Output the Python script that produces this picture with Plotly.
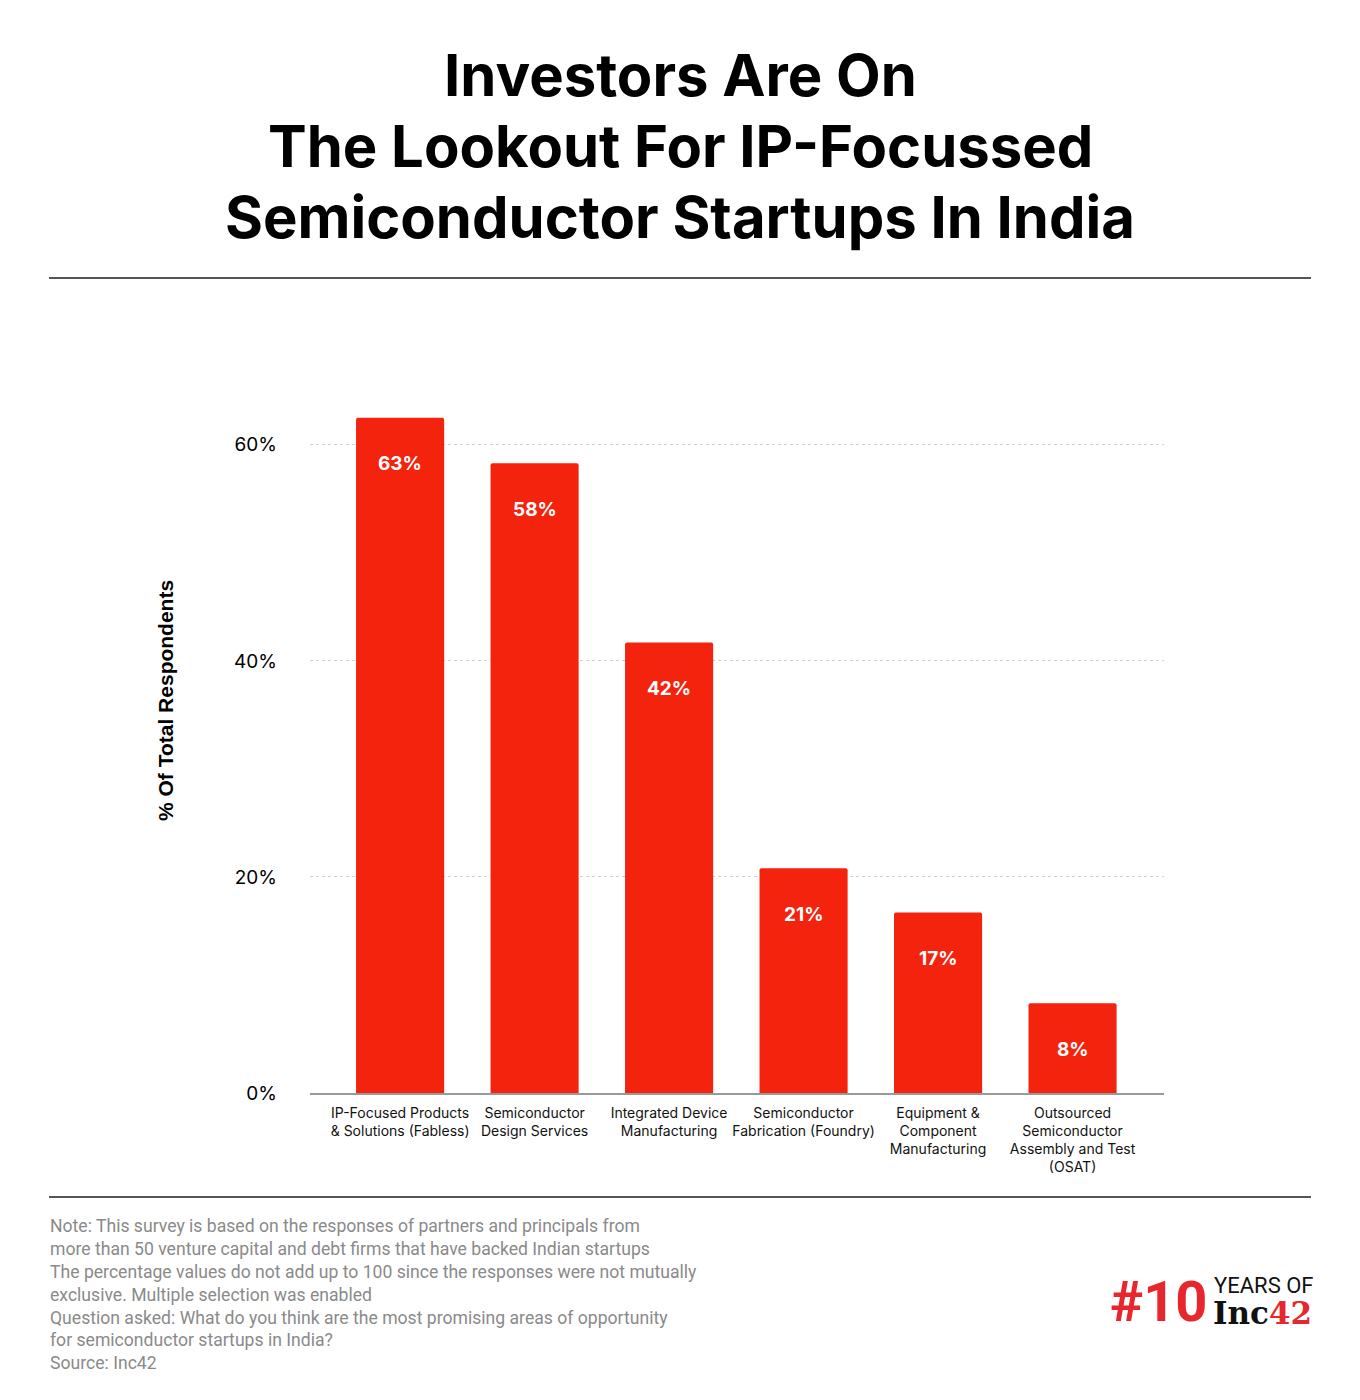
import math
import plotly.graph_objects as go

# ---- data ----
categories = [
    "IP-Focused Products & Solutions (Fabless)",
    "Semiconductor Design Services",
    "Integrated Device Manufacturing",
    "Semiconductor Fabrication (Foundry)",
    "Equipment & Component Manufacturing",
    "Outsourced Semiconductor Assembly and Test (OSAT)",
]
tick_labels = [
    "IP-Focused Products<br>& Solutions (Fabless)",
    "Semiconductor<br>Design Services",
    "Integrated Device<br>Manufacturing",
    "Semiconductor<br>Fabrication (Foundry)",
    "Equipment &<br>Component<br>Manufacturing",
    "Outsourced<br>Semiconductor<br>Assembly and Test<br>(OSAT)",
]
values = [62.5, 58.3, 41.7, 20.8, 16.7, 8.3]
y_ticks = [0, 20, 40, 60]
y_tick_labels = ["0%", "20%", "40%", "60%"]

title_lines = [
    "Investors Are On",
    "The Lookout For IP-Focussed",
    "Semiconductor Startups In India",
]
y_title = "% Of Total Respondents"
notes = [
    "Note: This survey is based on the responses of partners and principals from",
    "more than 50 venture capital and debt firms that have backed Indian startups",
    "The percentage values do not add up to 100 since the responses were not mutually",
    "exclusive. Multiple selection was enabled",
    "Question asked: What do you think are the most promising areas of opportunity",
    "for semiconductor startups in India?",
    "Source: Inc42",
]

BAR = "#F3230E"
RED = "#E8262D"
W, H = 1360, 1400
PL, PR, PT, PB = 310, 1164, 380, 1093  # plot area in px


def px_x(x):
    return (x - PL) / (PR - PL)


def px_y(y):
    return (PB - y) / (PB - PT)


def pct(v):
    return f"{int(math.floor(v + 0.5))}%"


fig = go.Figure()
fig.add_trace(go.Bar(
    x=categories, y=values, width=0.655,
    marker=dict(color=BAR, cornerradius=2, line=dict(width=0)),
    hoverinfo="skip",
))

annotations = []
# bar value labels
for c, v in zip(categories, values):
    annotations.append(dict(
        x=c, y=v, xref="x", yref="y", text=f"<b>{pct(v)}</b>",
        showarrow=False, yanchor="middle", yshift=-46,
        font=dict(family="Inter, Lato, sans-serif", size=19, color="white"),
    ))

# title
title_y = [75, 146, 217]
for t, yy in zip(title_lines, title_y):
    annotations.append(dict(
        x=px_x(W / 2), y=px_y(yy), xref="paper", yref="paper", text=f"<b>{t}</b>",
        showarrow=False, xanchor="center", yanchor="middle",
        font=dict(family="Inter, Lato, sans-serif", size=58, color="#000"),
    ))

# y axis title
annotations.append(dict(
    x=px_x(165), y=px_y(701), xref="paper", yref="paper", text=f"<b>{y_title}</b>",
    showarrow=False, textangle=-90, xanchor="center", yanchor="middle",
    font=dict(family="Liberation Sans, Arial, sans-serif", size=21, color="#000"),
))

# footnote
annotations.append(dict(
    x=px_x(48), y=px_y(1214), xref="paper", yref="paper", text="<br>".join(notes),
    showarrow=False, xanchor="left", yanchor="top", align="left",
    font=dict(family="Roboto, sans-serif", size=17.6, color="#8a8a8a"),
))

# logo
annotations.append(dict(
    x=px_x(1209), y=px_y(1302), xref="paper", yref="paper", text="<b>#10</b>",
    showarrow=False, xanchor="right", yanchor="middle",
    font=dict(family="Roboto, sans-serif", size=56, color=RED, weight=900),
))
annotations.append(dict(
    x=px_x(1212), y=px_y(1285), xref="paper", yref="paper", text="YEARS OF",
    showarrow=False, xanchor="left", yanchor="middle",
    font=dict(family="Roboto, sans-serif", size=22, color="#111"),
))
annotations.append(dict(
    x=px_x(1211), y=px_y(1313), xref="paper", yref="paper",
    text=f"<b>Inc</b><b><span style='color:{RED}'>42</span></b>",
    showarrow=False, xanchor="left", yanchor="middle",
    font=dict(family="DejaVu Serif, serif", size=31, color="#111"),
))

shapes = [
    dict(type="line", xref="paper", yref="paper", x0=px_x(49), x1=px_x(1311),
         y0=px_y(278), y1=px_y(278), line=dict(color="#555", width=2)),
    dict(type="line", xref="paper", yref="paper", x0=px_x(49), x1=px_x(1311),
         y0=px_y(1197), y1=px_y(1197), line=dict(color="#555", width=2)),
]

fig.update_layout(
    width=W, height=H, autosize=False,
    margin=dict(l=PL, r=W - PR, t=PT, b=H - PB, pad=0),
    paper_bgcolor="white", plot_bgcolor="white",
    showlegend=False,
    annotations=annotations, shapes=shapes,
)
fig.update_xaxes(
    range=[-0.67, 5.68], tickvals=categories, ticktext=tick_labels,
    showline=True, linecolor="#999", linewidth=2, ticks="",
    showgrid=False, tickangle=0, ticklabelstandoff=6,
    tickfont=dict(family="Inter, Lato, sans-serif", size=14, color="#111"),
)
fig.update_yaxes(
    range=[0, 66], tickvals=y_ticks, ticktext=y_tick_labels,
    showgrid=True, gridcolor="#cfcfcf", griddash="dot", gridwidth=1,
    zeroline=False, showline=False, ticks="", ticklabelstandoff=32,
    tickfont=dict(family="Inter, Lato, sans-serif", size=19, color="#000"),
)

fig.write_html("out.html", config={"displayModeBar": False},
               post_script="document.body.style.margin='0';")
